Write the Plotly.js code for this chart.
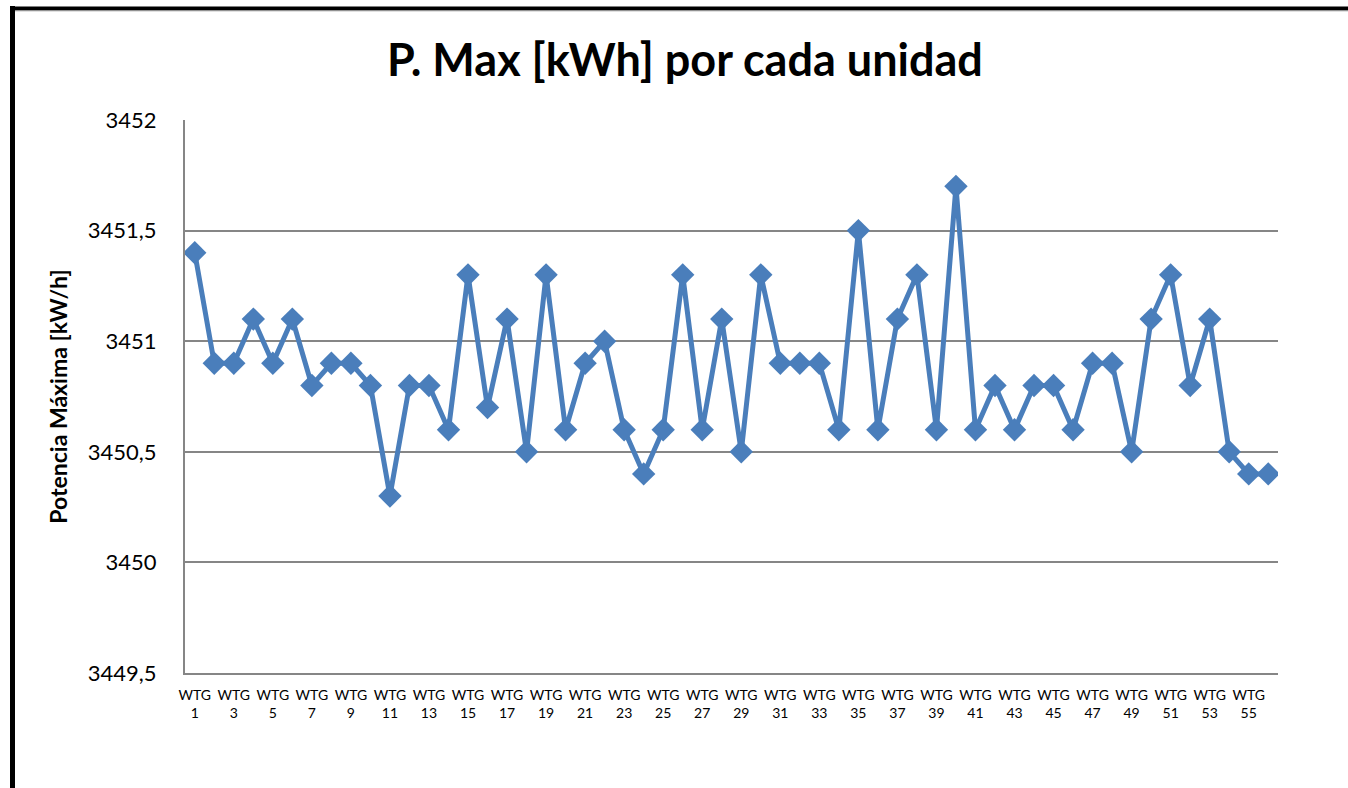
<!DOCTYPE html>
<html>
<head>
<meta charset="utf-8">
<script src="https://cdn.plot.ly/plotly-3.0.1.min.js"></script>
<style>
html,body{margin:0;padding:0;background:#fff;}
#chart{width:1348px;height:788px;}
</style>
</head>
<body>
<div id="chart"></div>
<script>
const units = [];
for (let i = 1; i <= 56; i++) units.push(i);
const potencia = [
  3451.4, 3450.9, 3450.9, 3451.1, 3450.9, 3451.1, 3450.8, 3450.9, 3450.9, 3450.8,
  3450.3, 3450.8, 3450.8, 3450.6, 3451.3, 3450.7, 3451.1, 3450.5, 3451.3, 3450.6,
  3450.9, 3451.0, 3450.6, 3450.4, 3450.6, 3451.3, 3450.6, 3451.1, 3450.5, 3451.3,
  3450.9, 3450.9, 3450.9, 3450.6, 3451.5, 3450.6, 3451.1, 3451.3, 3450.6, 3451.7,
  3450.6, 3450.8, 3450.6, 3450.8, 3450.8, 3450.6, 3450.9, 3450.9, 3450.5, 3451.1,
  3451.3, 3450.8, 3451.1, 3450.5, 3450.4, 3450.4
];
const xTickVals = [];
const xTickText = [];
for (let i = 1; i <= 55; i += 2) { xTickVals.push(i); xTickText.push('WTG<br>' + i); }
const yTickVals = [3449.5, 3450, 3450.5, 3451, 3451.5, 3452];
const yTickText = ['3449,5', '3450', '3450,5', '3451', '3451,5', '3452'];

const trace = {
  x: units, y: potencia, type: 'scatter', mode: 'lines+markers',
  line: {color: '#4A7EBB', width: 5},
  marker: {symbol: 'diamond', size: 18, color: '#4A7EBB', line: {width: 0}},
  hoverinfo: 'x+y'
};

const L = 185, R = 1278, T = 120, B = 673;
const W = R - L, H = B - T;
const px = v => (v - L) / W;
const py = v => (B - v) / H;
const FONT = 'Lato, "Open Sans", sans-serif';

const layout = {
  width: 1348, height: 788,
  margin: {l: L, r: 1348 - R, t: T, b: 788 - B},
  paper_bgcolor: '#ffffff', plot_bgcolor: '#ffffff',
  font: {family: FONT, color: '#000'},
  showlegend: false,
  title: {
    text: '<b>P. Max [kWh] por cada unidad</b>',
    font: {size: 45, family: FONT, color: '#000'},
    xref: 'container', x: 685 / 1348, xanchor: 'center',
    yref: 'container', y: 1 - 60 / 788, yanchor: 'middle'
  },
  xaxis: {
    range: [0.5, 56.5], tickmode: 'array', tickvals: xTickVals, ticktext: xTickText,
    tickfont: {size: 14, family: FONT},
    showgrid: false, zeroline: false, showline: true, linecolor: '#868686', linewidth: 2,
    ticks: '', tickangle: 0, ticklabelstandoff: 8, fixedrange: true
  },
  yaxis: {
    range: [3449.5, 3452], tickmode: 'array', tickvals: yTickVals, ticktext: yTickText,
    tickfont: {size: 22, family: FONT},
    showgrid: true, gridcolor: '#868686', gridwidth: 2,
    zeroline: false, showline: true, linecolor: '#868686', linewidth: 2,
    ticks: '', ticklen: 0, ticklabelstandoff: 22, fixedrange: true,
    title: {text: '<b>Potencia Máxima [kW/h]</b>', font: {size: 23, family: FONT}, standoff: 14}
  },
  shapes: [
    {type: 'line', xref: 'paper', yref: 'paper', x0: px(12.5), x1: px(12.5), y0: py(6), y1: py(900),
     line: {color: '#000', width: 5}},
    {type: 'line', xref: 'paper', yref: 'paper', x0: px(10), x1: px(1400), y0: py(8.5), y1: py(8.5),
     line: {color: '#000', width: 4}},
    {type: 'line', xref: 'paper', yref: 'paper', x0: px(15), x1: px(1400), y0: py(10.8), y1: py(10.8),
     line: {color: '#9a9a9a', width: 1}}
  ]
};

Plotly.newPlot('chart', [trace], layout, {displayModeBar: false, staticPlot: true});
</script>
</body>
</html>
